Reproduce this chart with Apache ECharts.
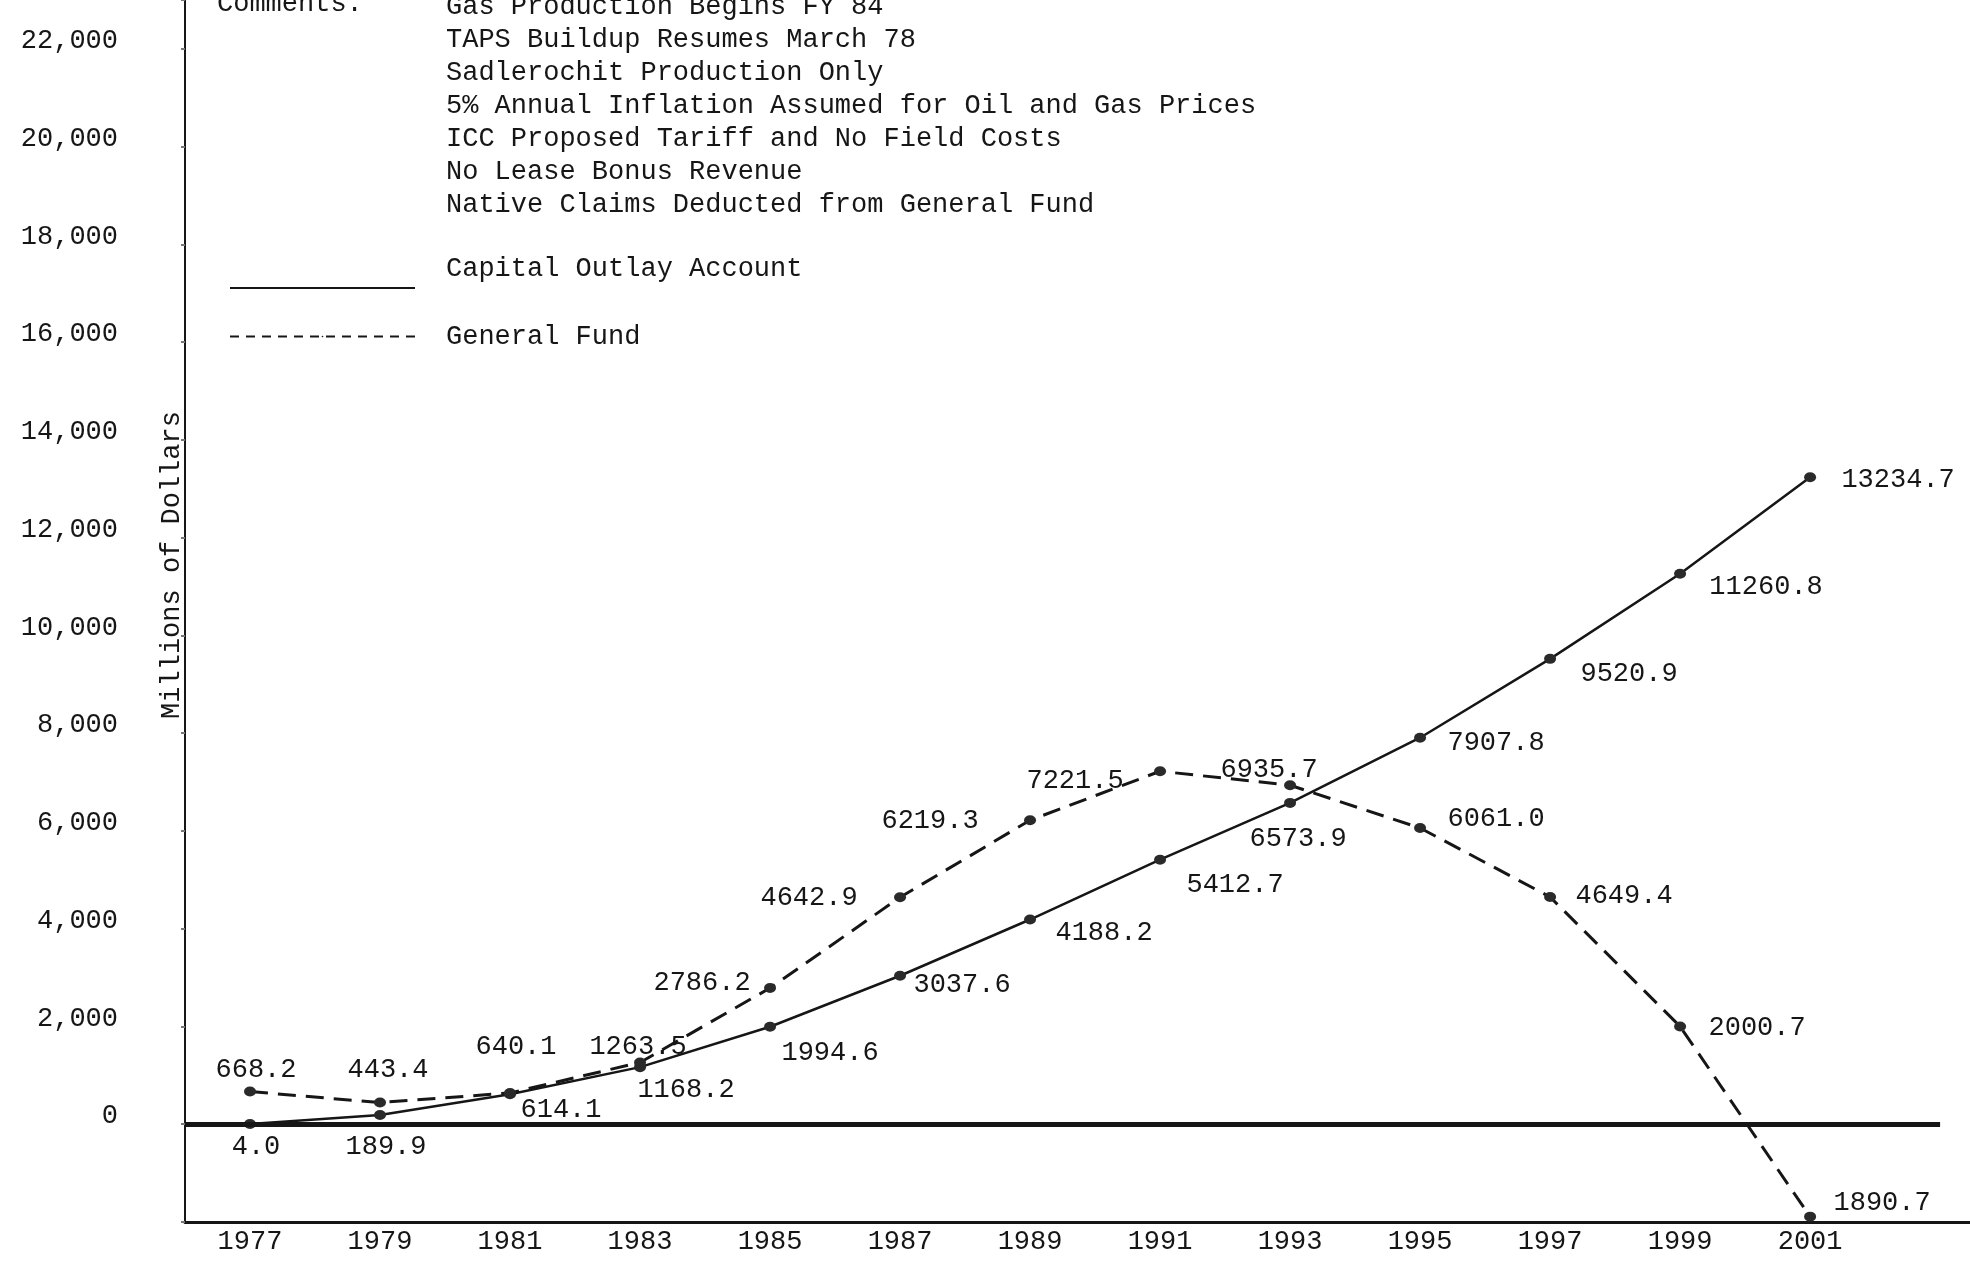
<!DOCTYPE html>
<html>
<head>
<meta charset="utf-8">
<title>Capital Outlay Account and General Fund</title>
<script src="https://cdn.jsdelivr.net/npm/echarts@6/dist/echarts.min.js"></script>
<style>
  html, body { margin: 0; padding: 0; background: #fff; }
  #chart { width: 1970px; height: 1261px; }
</style>
</head>
<body>
<div id="chart"></div>
<script>
// fiscal years on the chart
var years = [1977, 1979, 1981, 1983, 1985, 1987, 1989, 1991, 1993, 1995, 1997, 1999, 2001];
// millions of dollars
var capitalOutlay = [4.0, 189.9, 614.1, 1168.2, 1994.6, 3037.6, 4188.2, 5412.7, 6573.9, 7907.8, 9520.9, 11260.8, 13234.7];
var generalFund = [668.2, 443.4, 640.1, 1263.5, 2786.2, 4642.9, 6219.3, 7221.5, 6935.7, 6061.0, 4649.4, 2000.7, -1890.7];
var comments = [
  'Gas Production Begins FY 84',
  'TAPS Buildup Resumes March 78',
  'Sadlerochit Production Only',
  '5% Annual Inflation Assumed for Oil and Gas Prices',
  'ICC Proposed Tariff and No Field Costs',
  'No Lease Bonus Revenue',
  'Native Claims Deducted from General Fund'
];

// the value labels were typed by hand, each one sits a bit differently
var capitalLabelOffset = [[6, 23], [6, 32], [51, 16], [46, 23], [60, 26], [62, 9], [74, 13], [75, 25], [8, 36], [76, 5], [79, 15], [86, 13], [88, 3]];
var generalLabelOffset = [[6, -22], [8, -33], [6, -46], [-2, -16], [-68, -5], [-91, 1], [-100, 1], [-85, 10], [-21, -15], [76, -9], [74, -1], [77, 1], [72, -14]];

var FONT = 'Liberation Mono';
var INK = '#161616';

function points(values, offsets) {
  return years.map(function (y, i) {
    return { value: [y, values[i]], label: { offset: offsets[i] } };
  });
}

var chart = echarts.init(document.getElementById('chart'));

var option = {
  backgroundColor: '#ffffff',
  animation: false,
  textStyle: { fontFamily: FONT, color: INK },
  grid: { left: 185, right: 0, top: 0, bottom: 39 },
  xAxis: {
    type: 'value',
    min: 1976,
    max: 2003.46,
    splitLine: { show: false },
    axisLine: { onZero: false, lineStyle: { color: INK, width: 3 } },
    axisTick: { show: false },
    axisLabel: {
      customValues: years,
      margin: 6,
      fontFamily: FONT,
      fontSize: 27,
      color: INK,
      formatter: function (v) { return String(v); }
    }
  },
  yAxis: {
    type: 'value',
    min: -2000,
    max: 23000,
    interval: 2000,
    splitLine: { show: false },
    axisLine: { show: true, lineStyle: { color: INK, width: 2 } },
    axisTick: { show: true, length: 4, lineStyle: { color: '#777', width: 2 } },
    axisLabel: {
      margin: 67,
      fontFamily: FONT,
      fontSize: 27,
      color: INK,
      lineHeight: 16,
      verticalAlign: 'bottom',
      formatter: function (v) {
        if (v < 0 || v % 2000 !== 0) return '';
        return v.toLocaleString('en-US');
      }
    }
  },
  legend: [
    {
      data: ['Capital Outlay Account'],
      left: 224,
      top: 245,
      itemWidth: 185,
      itemHeight: 2,
      selectedMode: false,
      formatter: function (name) { return name + '\n '; },
      lineStyle: { width: 2, type: 'solid', color: INK },
      itemStyle: { color: INK, borderWidth: 0 },
      textStyle: { fontFamily: FONT, fontSize: 27, color: INK, lineHeight: 38, padding: [0, 0, 0, 26] }
    },
    {
      data: ['General Fund'],
      left: 224,
      top: 318,
      itemWidth: 185,
      itemHeight: 2,
      selectedMode: false,
      lineStyle: { width: 2, type: [9, 7], color: INK },
      itemStyle: { color: INK, borderWidth: 0 },
      textStyle: { fontFamily: FONT, fontSize: 27, color: INK, padding: [0, 0, 0, 26] }
    }
  ],
  graphic: [
    {
      type: 'text',
      left: 217,
      top: -10,
      style: { text: 'Comments:', font: '27px "' + FONT + '"', fill: INK }
    },
    {
      type: 'text',
      x: 446,
      y: -10,
      style: {
        text: comments.join('\n'),
        font: '27px "' + FONT + '"',
        fill: INK,
        lineHeight: 33,
        textVerticalAlign: 'top'
      }
    },
    {
      type: 'text',
      x: 172,
      y: 565,
      rotation: Math.PI / 2,
      style: {
        text: 'Millions of Dollars',
        font: '27px "' + FONT + '"',
        fill: INK,
        textAlign: 'center',
        textVerticalAlign: 'middle'
      }
    }
  ],
  series: [
    {
      name: 'Capital Outlay Account',
      type: 'line',
      data: points(capitalOutlay, capitalLabelOffset),
      symbol: 'circle',
      symbolSize: [12, 10],
      itemStyle: { color: '#2a2a2a' },
      lineStyle: { color: INK, width: 2.5 },
      label: {
        show: true,
        position: 'inside',
        align: 'center',
        verticalAlign: 'middle',
        fontFamily: FONT,
        fontSize: 27,
        color: INK,
        formatter: function (p) { return Math.abs(p.value[1]).toFixed(1); }
      },
      markLine: {
        silent: true,
        symbol: 'none',
        label: { show: false },
        lineStyle: { color: INK, width: 5, type: 'solid' },
        data: [[{ coord: [1976, 0] }, { coord: [2003, 0] }]]
      },
      z: 3
    },
    {
      name: 'General Fund',
      type: 'line',
      data: points(generalFund, generalLabelOffset),
      symbol: 'circle',
      symbolSize: [12, 10],
      itemStyle: { color: '#2a2a2a' },
      lineStyle: { color: INK, width: 3, type: [18, 10] },
      label: {
        show: true,
        position: 'inside',
        align: 'center',
        verticalAlign: 'middle',
        fontFamily: FONT,
        fontSize: 27,
        color: INK,
        formatter: function (p) { return Math.abs(p.value[1]).toFixed(1); }
      },
      z: 3
    }
  ]
};

chart.setOption(option);
</script>
</body>
</html>
